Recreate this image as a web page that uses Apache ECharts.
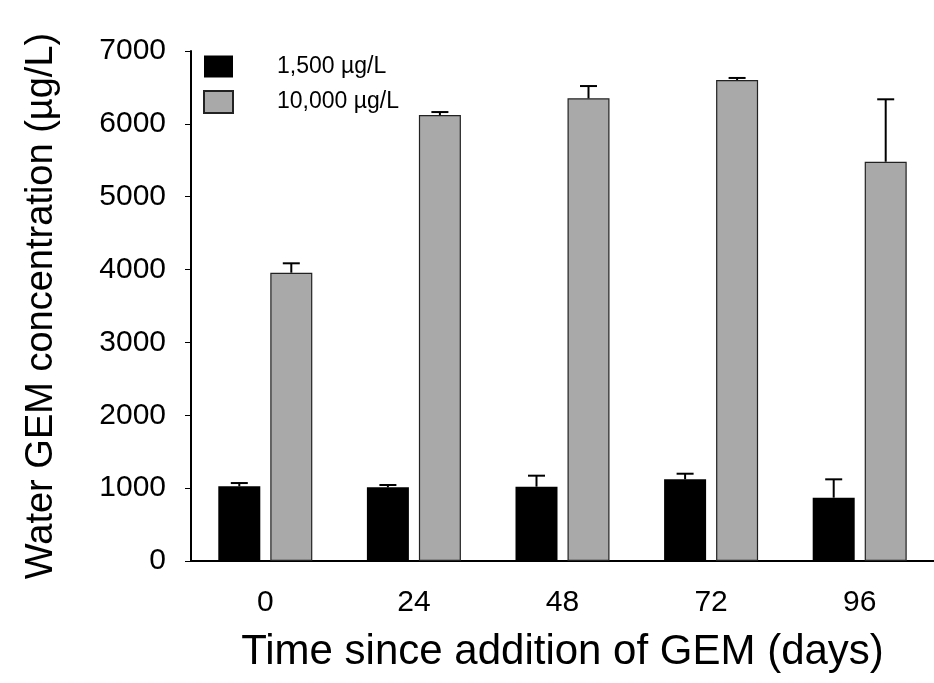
<!DOCTYPE html>
<html>
<head>
<meta charset="utf-8">
<script src="https://cdn.jsdelivr.net/npm/echarts@6/dist/echarts.min.js"></script>
<style>
  html, body { margin: 0; padding: 0; background: #fff; }
  #main { width: 934px; height: 683px; }
</style>
</head>
<body>
<div id="main"></div>
<script>
// data
var days = ['0', '24', '48', '72', '96'];
var lowDose = [1025, 1011, 1020, 1121, 869];       // 1,500 µg/L
var lowDoseErr = [45, 32, 151, 77, 252];
var highDose = [3957, 6120, 6350, 6602, 5480];     // 10,000 µg/L
var highDoseErr = [129, 42, 169, 28, 857];
var yTicks = [0, 1000, 2000, 3000, 4000, 5000, 6000, 7000];

var FONT = 'Liberation Sans, Arial, Helvetica, sans-serif';
var BAR_W = 42;
var GAP_PX = 10;

function errData(means, errs) {
    return means.map(function (m, i) { return [i, m, m + errs[i]]; });
}

// error bar drawn above a bar, side = -1 (left bar) or +1 (right bar)
function errRender(side) {
    return function (params, api) {
        var top = api.coord([api.value(0), api.value(2)]);
        var base = api.coord([api.value(0), api.value(1)]);
        var x = top[0] + side * (BAR_W + GAP_PX) / 2;
        var cap = 8.5;
        return {
            type: 'group',
            children: [
                { type: 'line', shape: { x1: x, y1: base[1], x2: x, y2: top[1] }, style: { stroke: '#000', lineWidth: 2 } },
                { type: 'line', shape: { x1: x - cap, y1: top[1], x2: x + cap, y2: top[1] }, style: { stroke: '#000', lineWidth: 2 } }
            ]
        };
    };
}

var chart = echarts.init(document.getElementById('main'));
var option = {
    backgroundColor: '#fff',
    animation: false,
    textStyle: { fontFamily: FONT },
    grid: { left: 191, right: -7, top: 51, bottom: 122 },
    legend: {
        data: ['1,500 µg/L', '10,000 µg/L'],
        orient: 'vertical',
        left: 203,
        top: 55,
        padding: 0,
        icon: 'rect',
        itemWidth: 29,
        itemHeight: 22,
        itemGap: 12,
        textStyle: { fontSize: 23, color: '#000', fontFamily: FONT, padding: [0, 0, 0, 39] }
    },
    xAxis: {
        type: 'category',
        data: days,
        name: 'Time since addition of GEM (days)',
        nameLocation: 'middle',
        nameGap: 70,
        nameTextStyle: { fontSize: 42, color: '#000', fontFamily: FONT },
        axisLine: { lineStyle: { color: '#000', width: 2 } },
        axisTick: { alignWithLabel: true, length: 8, lineStyle: { color: '#000', width: 1.5 } },
        axisLabel: { fontSize: 30, color: '#000', margin: 27, fontFamily: FONT }
    },
    yAxis: {
        type: 'value',
        min: yTicks[0],
        max: yTicks[yTicks.length - 1],
        interval: 1000,
        name: 'Water GEM concentration (µg/L)',
        nameLocation: 'middle',
        nameGap: 130,
        nameTextStyle: { fontSize: 38, color: '#000', fontFamily: FONT },
        splitLine: { show: false },
        axisLine: { show: true, lineStyle: { color: '#000', width: 2 } },
        axisTick: { show: true, length: 6, lineStyle: { color: '#000', width: 1 } },
        axisLabel: {
            fontSize: 30, color: '#000', margin: 25, fontFamily: FONT,
            formatter: function (v) { return String(v); }
        }
    },
    series: [
        {
            name: '1,500 µg/L',
            type: 'bar',
            data: lowDose,
            barWidth: BAR_W,
            barGap: (GAP_PX / BAR_W * 100) + '%',
            itemStyle: { color: '#000' }
        },
        {
            name: '10,000 µg/L',
            type: 'bar',
            data: highDose,
            barWidth: BAR_W,
            itemStyle: { color: '#a9a9a9', borderColor: '#222', borderWidth: 1.2 }
        },
        {
            type: 'custom',
            renderItem: errRender(-1),
            data: errData(lowDose, lowDoseErr),
            z: 10
        },
        {
            type: 'custom',
            renderItem: errRender(1),
            data: errData(highDose, highDoseErr),
            z: 10
        }
    ]
};
chart.setOption(option);
</script>
</body>
</html>
